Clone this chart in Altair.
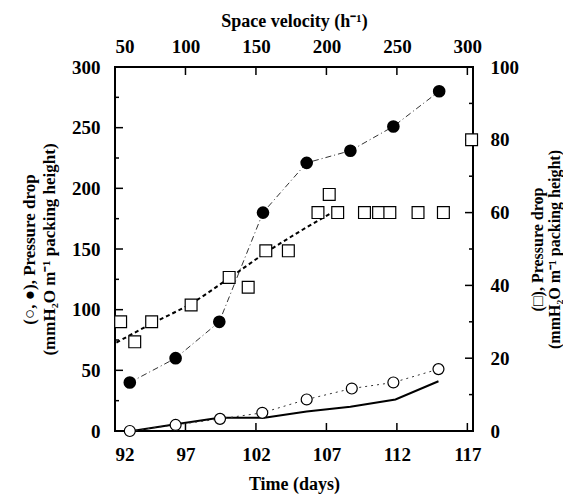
import altair as alt
import pandas as pd

# ---- data ----
days_filled = [93.05, 96.3, 99.4, 102.5, 105.6, 108.7, 111.75, 115.0]
dp_filled = [40, 60, 90, 180, 221, 231, 251, 280]

days_open = [93.05, 96.3, 99.45, 102.45, 105.6, 108.8, 111.75, 114.95]
dp_open = [0, 5, 10, 15, 26, 35, 40, 51]

days_solid = [93.2, 96.3, 99.4, 102.6, 105.6, 108.7, 111.9, 114.95]
dp_solid = [0, 5.5, 11, 11, 16, 20, 26, 41]

days_sq = [92.4, 93.4, 94.6, 97.4, 100.1, 101.45, 102.7, 104.3, 106.4, 107.2,
           107.8, 109.7, 110.7, 111.5, 113.5, 115.3, 117.3]
dp_sq = [30, 24.5, 30, 34.6, 42.2, 39.5, 49.5, 49.5, 60, 65,
         60, 60, 60, 60, 60, 60, 80]

days_fit = [92.1, 94.6, 97.4, 100.1, 102.7, 105.1, 107.4]
dp_fit = [24.3, 29.5, 35, 42, 49, 54.8, 60]

day_ticks = [92, 97, 102, 107, 112, 117]
sv_ticks = [50, 100, 150, 200, 250, 300]
left_ticks = [0, 50, 100, 150, 200, 250, 300]
left_minor = [25, 75, 125, 175, 225, 275]
right_ticks = [0, 20, 40, 60, 80, 100]
right_minor = [10, 30, 50, 70, 90]

W, H = 358, 364
FONT = "Liberation Serif"

df_filled = pd.DataFrame({"day": days_filled, "dp": dp_filled})
df_open = pd.DataFrame({"day": days_open, "dp": dp_open})
df_solid = pd.DataFrame({"day": days_solid, "dp": dp_solid})
df_sq = pd.DataFrame({"day": days_sq, "dp": dp_sq})
df_fit = pd.DataFrame({"day": days_fit, "dp": dp_fit})
df_dt = pd.DataFrame({"day": day_ticks})
df_sv = pd.DataFrame({"sv": sv_ticks})
df_lt = pd.DataFrame({"dp": left_ticks})
df_lm = pd.DataFrame({"dp": left_minor})
df_rt = pd.DataFrame({"dp": right_ticks})
df_rm = pd.DataFrame({"dp": right_minor})

xscale = alt.Scale(domain=[92, 117.4], nice=False, zero=False)
x_bottom = alt.X(
    "day:Q", scale=xscale,
    axis=alt.Axis(orient="bottom", values=day_ticks, ticks=False, domain=False,
                  grid=False, labelPadding=14, title="Time (days)",
                  titlePadding=11, titleFontSize=18, format="d"),
)
x_none = alt.X("day:Q", scale=xscale, axis=None)

yl_scale = alt.Scale(domain=[0, 300], nice=False, zero=False)
y_left = alt.Y(
    "dp:Q", scale=yl_scale,
    axis=alt.Axis(orient="left", values=left_ticks, ticks=False, domain=False,
                  grid=False, labelPadding=15,
                  title=["(○, ●), Pressure drop", "(mmH₂O m⁻¹ packing height)"],
                  titlePadding=13, titleLineHeight=20),
)
yr_scale = alt.Scale(domain=[0, 100], nice=False, zero=False)
y_right = alt.Y(
    "dp:Q", scale=yr_scale,
    axis=alt.Axis(orient="right", values=right_ticks, ticks=False, domain=False,
                  grid=False, labelPadding=17,
                  title=["(□), Pressure drop", "(mmH₂O m⁻¹ packing height)"],
                  titleAngle=270, titlePadding=10, titleLineHeight=17,
                  titleFontSize=16),
)

# left group
filled_line = alt.Chart(df_filled).mark_line(
    color="#333", strokeWidth=1, strokeDash=[6, 3, 1, 3]
).encode(x=x_bottom, y=y_left)
filled_pts = alt.Chart(df_filled).mark_point(
    shape="circle", filled=True, color="black", size=160, opacity=1
).encode(x=x_bottom, y=y_left)
open_line = alt.Chart(df_open).mark_line(
    color="#333", strokeWidth=1, strokeDash=[2, 4]
).encode(x=x_bottom, y=y_left)
open_pts = alt.Chart(df_open).mark_point(
    shape="circle", filled=True, fill="white", stroke="black", strokeWidth=1.2,
    size=120, opacity=1
).encode(x=x_bottom, y=y_left)
solid_line = alt.Chart(df_solid).mark_line(
    color="black", strokeWidth=2
).encode(x=x_bottom, y=y_left)
bottom_ticks = alt.Chart(df_dt).mark_rule(color="black", strokeWidth=1.5).encode(
    x=x_bottom, y=alt.value(H), y2=alt.value(H - 8)
)
left_major = alt.Chart(df_lt).mark_rule(color="black", strokeWidth=1.5).encode(
    y=y_left, x=alt.value(0), x2=alt.value(8)
)
left_min = alt.Chart(df_lm).mark_rule(color="black", strokeWidth=1.5).encode(
    y=y_left, x=alt.value(0), x2=alt.value(4)
)
left_group = alt.layer(left_major, left_min, bottom_ticks, solid_line, open_line,
                       filled_line, open_pts, filled_pts)

# right group
fit_line = alt.Chart(df_fit).mark_line(
    color="black", strokeWidth=2, strokeDash=[4, 3], interpolate="monotone"
).encode(x=x_none, y=y_right)
sq_pts = alt.Chart(df_sq).mark_point(
    shape="square", filled=True, fill="white", stroke="black", strokeWidth=1.2,
    size=140, opacity=1
).encode(x=x_none, y=y_right)
right_major = alt.Chart(df_rt).mark_rule(color="black", strokeWidth=1.5).encode(
    y=y_right, x=alt.value(W), x2=alt.value(W - 8)
)
right_min = alt.Chart(df_rm).mark_rule(color="black", strokeWidth=1.5).encode(
    y=y_right, x=alt.value(W), x2=alt.value(W - 4)
)
right_group = alt.layer(right_major, right_min, fit_line, sq_pts)

# top axis (space velocity)
top_ticks = alt.Chart(df_sv).mark_rule(color="black", strokeWidth=1.5).encode(
    x=alt.X("sv:Q", scale=alt.Scale(domain=[50, 304], nice=False, zero=False),
            axis=alt.Axis(orient="top", values=sv_ticks, ticks=False, domain=False,
                          grid=False, labelPadding=11,
                          title="Space velocity (h⁻¹)", titlePadding=7,
                          titleFontSize=18)),
    y=alt.value(0), y2=alt.value(8),
)

chart = alt.layer(left_group, right_group, top_ticks).resolve_scale(
    x="independent", y="independent"
).properties(
    width=W, height=H,
    autosize=alt.AutoSizeParams(type="none"),
    padding={"left": 107, "top": 59, "right": 90, "bottom": 72},
    background="white",
).configure_view(
    stroke="black", strokeWidth=2
).configure_axis(
    labelFont=FONT, labelFontSize=19, labelFontWeight="bold", labelColor="black",
    titleFont=FONT, titleFontSize=17, titleFontWeight="bold", titleColor="black",
)

chart.save("out.html", embed_options={"renderer": "svg", "actions": False})
